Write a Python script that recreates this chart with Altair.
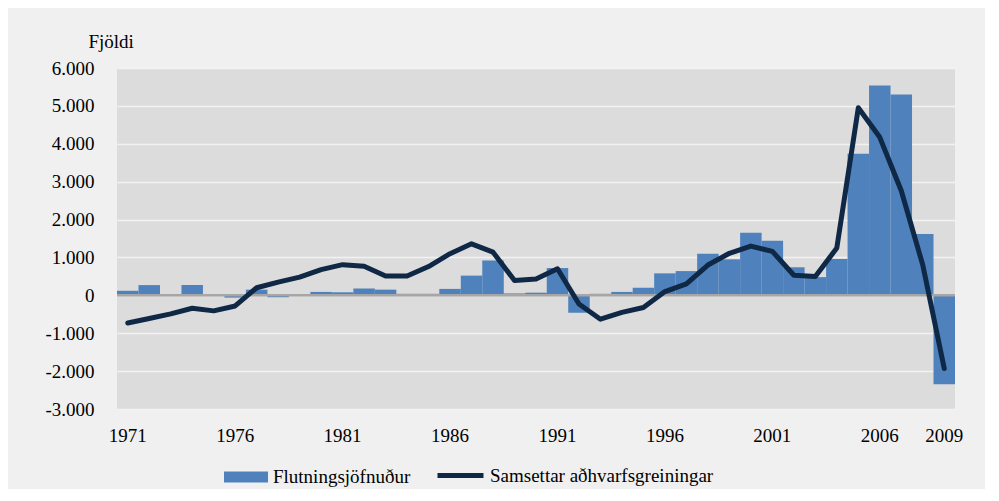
import altair as alt
import pandas as pd

years = list(range(1971, 2010))
flutningsjofnudur = [120, 270, 20, 270, 10, -60, 150, -50, 10, 90,
                     80, 180, 150, 40, 40, 170, 520, 920, 50, 70,
                     720, -460, 40, 90, 200, 580, 640, 1100, 950, 1650,
                     1440, 740, 480, 960, 3740, 5540, 5300, 1620, -2350]
samsettar = [-730, -610, -490, -340, -410, -280, 200, 350, 480, 680,
             810, 770, 510, 510, 760, 1100, 1360, 1140, 390, 430,
             700, -230, -630, -450, -320, 100, 300, 800, 1110, 1300,
             1160, 530, 500, 1250, 4950, 4170, 2760, 800, -1930]
tick_years = [1971, 1976, 1981, 1986, 1991, 1996, 2001, 2006, 2009]
y_ticks = [-3000, -2000, -1000, 0, 1000, 2000, 3000, 4000, 5000, 6000]
bar_name = "Flutningsjöfnuður"
line_name = "Samsettar aðhvarfsgreiningar"

df = pd.DataFrame({"year": years, "bar": flutningsjofnudur, "line": samsettar,
                   "bname": bar_name, "lname": line_name})

FONT = "Liberation Serif"
FS = 19
BAR = "#4f81bd"
LINE = "#0f2846"

x = alt.X("year:O", scale=alt.Scale(paddingInner=0, paddingOuter=0),
          axis=alt.Axis(values=tick_years, labelAngle=0, ticks=False, domain=False,
                        grid=False, labelPadding=26, labelFontSize=FS, labelFont=FONT,
                        labelColor="#000", title=None, labelBaseline="middle",
                        labelOverlap=False))

yscale = alt.Scale(domain=[-3000, 6000], nice=False)
yaxis = alt.Axis(values=y_ticks, tickCount=20, ticks=False, domain=False, grid=True,
                 gridColor="#f2f2f2", gridWidth=1.5, labelPadding=23,
                 labelOverlap=False,
                 labelFontSize=FS, labelFont=FONT, labelColor="#000",
                 labelExpr="(datum.value < 0 ? '-' : '') + replace(format(abs(datum.value), ','), ',', '.')",
                 title="Fjöldi", titleAngle=0, titleAlign="left",
                 titleBaseline="middle", titleX=-29, titleY=-27,
                 titleFont=FONT, titleFontSize=FS, titleFontWeight="normal",
                 titleColor="#000")

bars = alt.Chart(df).mark_bar(opacity=1).encode(
    x=x,
    y=alt.Y("bar:Q", scale=yscale, axis=yaxis),
    fill=alt.Fill("bname:N", scale=alt.Scale(domain=[bar_name], range=[BAR]),
                  legend=alt.Legend(orient="none", legendX=107, legendY=387, title=None,
                                    symbolType="M-1,-0.25H1V0.25H-1Z", symbolSize=1936,
                                    symbolStrokeWidth=0, labelFont=FONT, labelFontSize=FS,
                                    labelColor="#000", labelOffset=5, padding=0,
                                    labelLimit=0)),
)

zero = alt.Chart(pd.DataFrame({"z": [0]})).mark_rule(color="#a6a6a6", strokeWidth=2.5).encode(
    y=alt.Y("z:Q", scale=yscale, axis=yaxis)
)

line = alt.Chart(df).mark_line(strokeWidth=5, strokeCap="round", strokeJoin="round").encode(
    x=x,
    y=alt.Y("line:Q", scale=yscale, axis=yaxis),
    stroke=alt.Stroke("lname:N", scale=alt.Scale(domain=[line_name], range=[LINE]),
                      legend=alt.Legend(orient="none", legendX=318, legendY=382, title=None,
                                        symbolType="stroke", symbolSize=2116,
                                        symbolStrokeWidth=5, labelFont=FONT, labelFontSize=FS,
                                        labelColor="#000", labelOffset=4, padding=0,
                                        labelLimit=0)),
)

chart = alt.layer(bars, zero, line).resolve_scale(fill="independent", stroke="independent").properties(
    width=838, height=341,
    background="#f0f0f0",
    padding={"left": 109, "top": 60, "right": 30, "bottom": 80},
    autosize=alt.AutoSizeParams(type="none"),
).configure_view(fill="#dcdcdc", stroke=None)

chart.save("out.html", embed_options={"renderer": "svg", "actions": False})
